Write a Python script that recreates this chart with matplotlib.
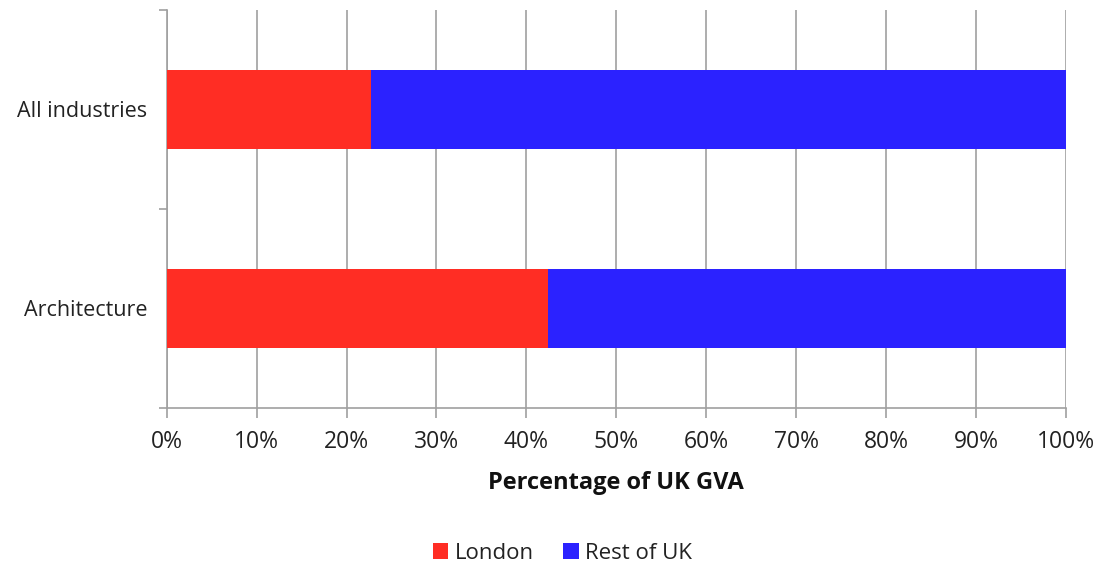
import matplotlib.pyplot as plt
import numpy as np

# Share of UK gross value added produced in London vs. the rest of the UK
categories = ["Architecture", "All industries"]
london = [42.4, 22.75]
rest_of_uk = [57.6, 77.25]
xticks = list(range(0, 101, 10))

RED = "#ff2d24"
BLUE = "#2b22ff"
GRID = "#a0a0a0"

plt.rcParams["font.family"] = ["Open Sans", "DejaVu Sans"]

fig = plt.figure(figsize=(11.03, 5.65), dpi=100)
ax = fig.add_axes([0.1511, 0.2779, 0.8154, 0.7044])

y = np.arange(len(categories))
ax.barh(y, london, height=0.4, color=RED, label="London", zorder=3)
ax.barh(y, rest_of_uk, left=london, height=0.4, color=BLUE, label="Rest of UK", zorder=3)

ax.set_xlim(0, 100)
ax.set_ylim(-0.5, len(categories) - 0.5)

ax.set_xticks(xticks)
ax.set_xticklabels([f"{v}%" for v in xticks])
ax.xaxis.grid(True, color=GRID, linewidth=1.2, zorder=0)

# category labels sit between boundary ticks
ax.set_yticks(y)
ax.set_yticklabels(categories)
ax.set_yticks(np.arange(-0.5, len(categories)), minor=True)
ax.tick_params(axis="y", which="major", length=0, pad=14, labelsize=15.5, labelcolor="#222222")
ax.tick_params(axis="y", which="minor", length=6, width=1.2, color=GRID)
ax.tick_params(axis="x", length=7, width=1.2, color=GRID, labelsize=16.5, labelcolor="#222222", pad=9)

for side in ("top", "right"):
    ax.spines[side].set_visible(False)
for side in ("left", "bottom"):
    ax.spines[side].set_color(GRID)
    ax.spines[side].set_linewidth(1.2)

ax.set_xlabel("Percentage of UK GVA", fontsize=17, fontweight="bold", color="#111111", labelpad=12)

fig.legend(loc="lower center", bbox_to_anchor=(0.51, -0.033), ncol=2, frameon=False,
           fontsize=16, handlelength=0.7, handleheight=0.7, handletextpad=0.3,
           columnspacing=1.3, labelcolor="#222222")

fig.savefig("out.png", dpi=100)
